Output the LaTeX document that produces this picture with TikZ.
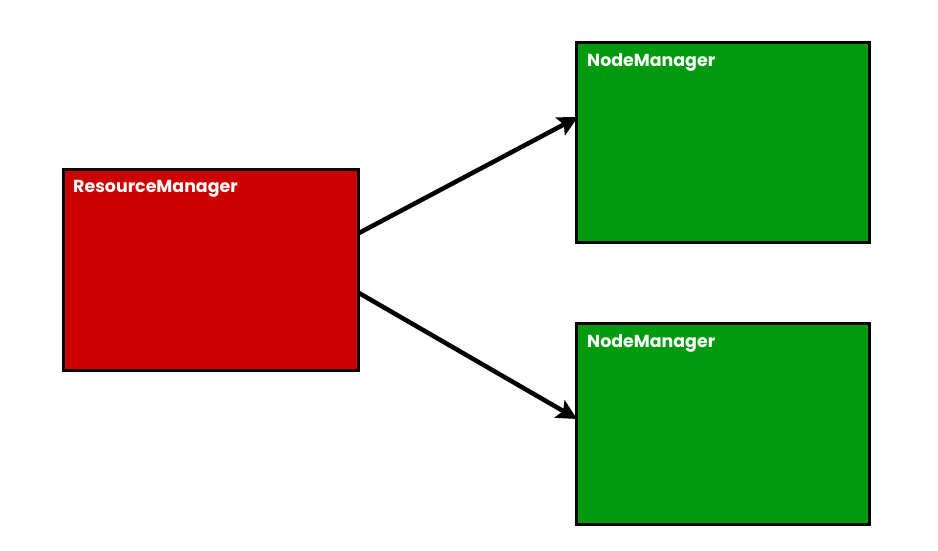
\documentclass[tikz,border=0pt]{standalone}
\usepackage{fontspec}
\setmainfont{Poppins}
\usetikzlibrary{arrows.meta}
\definecolor{rmred}{HTML}{CC0000}
\definecolor{nmgreen}{HTML}{009A0E}
\tikzset{
  box/.style={draw=black, line width=3pt, inner sep=0pt},
  lbl/.style={text=white, font=\fontsize{17.4}{19}\selectfont\bfseries, anchor=north west, inner sep=0pt},
  conn/.style={line width=4.5pt, -{Stealth[length=20pt,width=20pt,inset=4pt]}}
}
\begin{document}
\begin{tikzpicture}[x=1pt,y=-1pt]
\useasboundingbox (0,0) rectangle (938,550);
\fill[white] (0,0) rectangle (938,550);
\filldraw[box, fill=rmred] (63,169) rectangle (358,370);
\filldraw[box, fill=nmgreen] (576,42) rectangle (869,242);
\filldraw[box, fill=nmgreen] (576,323) rectangle (869,524);
\node[lbl] (rmlbl) at (73,180) {ResourceManager};
\node[lbl] (nm1lbl) at (587,53) {NodeManager};
\node[lbl] (nm2lbl) at (587,334) {NodeManager};
\coordinate (a1s) at (359,233);
\coordinate (a1e) at (578,117);
\coordinate (a2s) at (359,293);
\coordinate (a2e) at (577,419);
\draw[conn] (a1s) -- (a1e);
\draw[conn] (a2s) -- (a2e);
\end{tikzpicture}
\end{document}
